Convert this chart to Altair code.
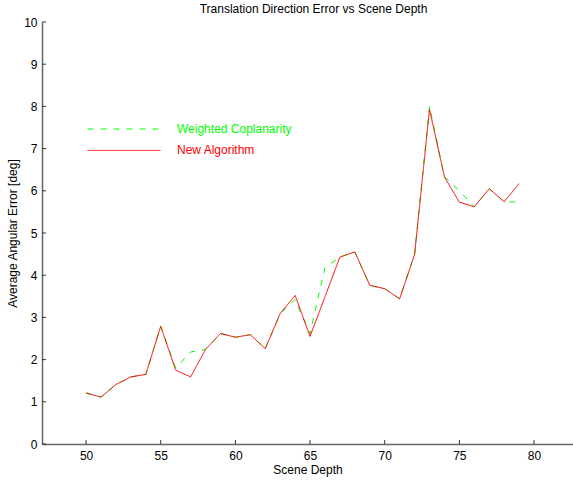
import altair as alt
import pandas as pd

# Scene depth samples and average angular error [deg] for each method
depth = list(range(50, 80))
weighted_coplanarity = [1.21, 1.11, 1.41, 1.59, 1.65, 2.79, 1.80, 2.18, 2.24, 2.62,
                        2.53, 2.59, 2.26, 3.09, 3.42, 2.62, 4.18, 4.43, 4.55, 3.76,
                        3.68, 3.44, 4.49, 8.00, 6.33, 6.00, 5.62, 6.05, 5.74, 5.73]
new_algorithm = [1.21, 1.11, 1.41, 1.59, 1.65, 2.79, 1.75, 1.59, 2.24, 2.62,
                 2.53, 2.59, 2.26, 3.09, 3.52, 2.55, 3.49, 4.43, 4.55, 3.76,
                 3.68, 3.44, 4.49, 7.93, 6.33, 5.73, 5.62, 6.05, 5.74, 6.17]

series_names = ["Weighted Coplanarity", "New Algorithm"]
series_colors = ["#00ff00", "#ff0000"]
series_dash = [[6, 7], [1, 0]]

x_ticks = [50, 55, 60, 65, 70, 75, 80]
y_ticks = list(range(0, 11))

rows = []
for name, values in zip(series_names, [weighted_coplanarity, new_algorithm]):
    for d, v in zip(depth, values):
        rows.append({"depth": d, "error": v, "method": name})
df = pd.DataFrame(rows)

FONT = "Liberation Sans"
FS = 12
AXIS_GREY = "#666666"
W, H = 531, 422

x_scale = alt.Scale(domain=[47.05, 82.61], nice=False, zero=False)
y_scale = alt.Scale(domain=[0, 10], nice=False, zero=True)

label_color_expr = " : ".join(
    [f"datum.label === '{n}' ? '{c}'" for n, c in zip(series_names[1:], series_colors[1:])]
    + [f"'{series_colors[0]}'"]
)


def make_legend():
    return alt.Legend(
        title=None,
        orient="none",
        legendX=74,
        legendY=99,
        padding=0,
        symbolType="M-5,0H5",
        symbolSize=213,
        symbolStrokeWidth=1,
        labelOffset=45,
        labelFont=FONT,
        labelFontSize=FS,
        labelColor=alt.ExprRef(expr=label_color_expr),
        rowPadding=7.4,
    )


lines = alt.Chart(df).mark_line(strokeWidth=1).encode(
    x=alt.X(
        "depth:Q",
        scale=x_scale,
        axis=alt.Axis(
            values=x_ticks, title="Scene Depth", grid=False, tickSize=0,
            domainColor=AXIS_GREY, domainWidth=1.5, labelPadding=6,
            labelFont=FONT, labelFontSize=FS, labelColor="#000000",
            titleFont=FONT, titleFontSize=FS, titleFontWeight="normal",
            titleColor="#000000", titlePadding=3,
        ),
    ),
    y=alt.Y(
        "error:Q",
        scale=y_scale,
        axis=alt.Axis(
            values=y_ticks, title="Average Angular Error [deg]", grid=False, tickSize=0,
            domainColor=AXIS_GREY, domainWidth=1.5, labelPadding=5,
            labelFont=FONT, labelFontSize=FS, labelColor="#000000",
            titleFont=FONT, titleFontSize=FS, titleFontWeight="normal",
            titleColor="#000000", titlePadding=4,
        ),
    ),
    color=alt.Color("method:N", scale=alt.Scale(domain=series_names, range=series_colors),
                    legend=make_legend()),
    strokeDash=alt.StrokeDash("method:N", scale=alt.Scale(domain=series_names, range=series_dash),
                              legend=make_legend()),
)

# inward-pointing tick marks along both axes
x_tick_marks = alt.Chart(pd.DataFrame({"depth": x_ticks})).mark_rule(
    color="#333333", strokeWidth=1
).encode(x=alt.X("depth:Q", scale=x_scale), y=alt.value(H), y2=alt.value(H - 4))

y_tick_marks = alt.Chart(pd.DataFrame({"error": y_ticks})).mark_rule(
    color="#333333", strokeWidth=1
).encode(y=alt.Y("error:Q", scale=y_scale), x=alt.value(0), x2=alt.value(4))

chart = (
    alt.layer(lines, x_tick_marks, y_tick_marks)
    .properties(
        width=W,
        height=H,
        autosize="none",
        padding={"left": 42, "top": 22, "right": 0, "bottom": 36},
        background="#ffffff",
        title=alt.TitleParams(
            "Translation Direction Error vs Scene Depth",
            font=FONT, fontSize=FS, fontWeight="normal", color="#000000",
            anchor="middle", dx=6, offset=0,
        ),
    )
    .configure_view(strokeWidth=0)
)

chart.save("out.html", embed_options={"renderer": "svg", "actions": False})
